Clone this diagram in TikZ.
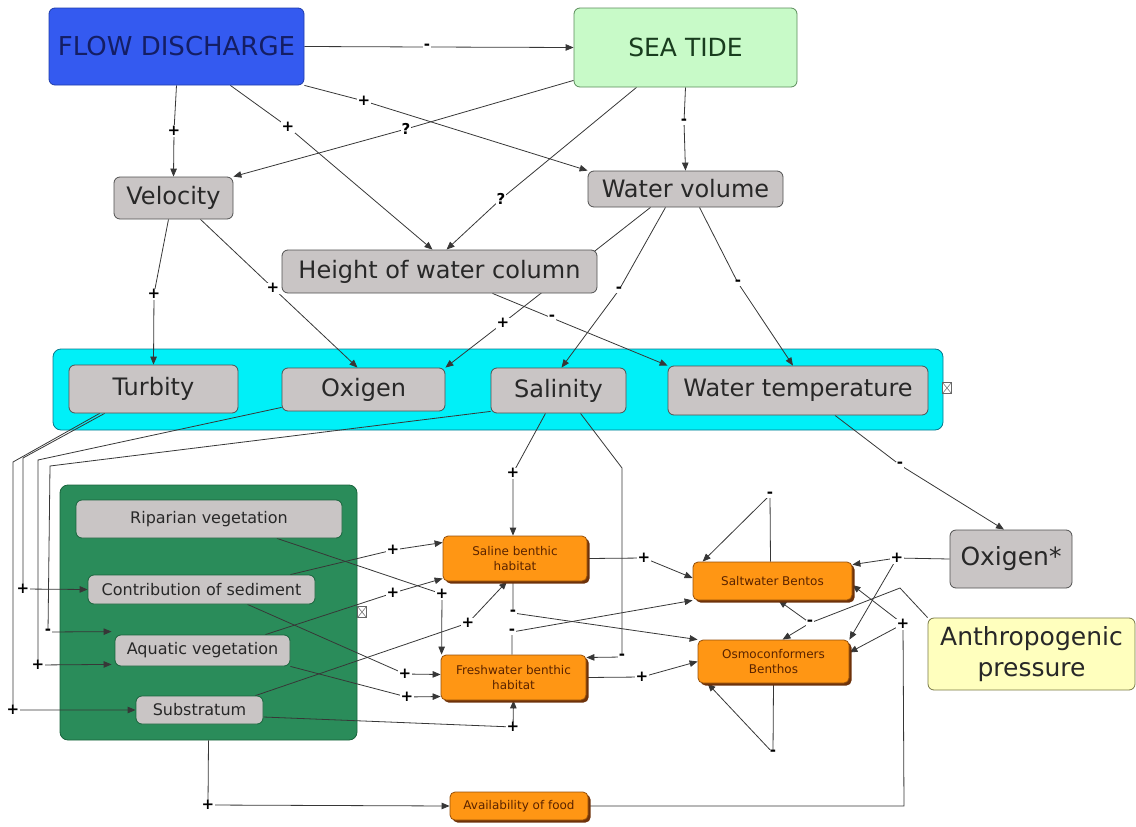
\documentclass[tikz,border=0pt]{standalone}
\usepackage{fontspec}
\setmainfont{DejaVu Sans}
\usetikzlibrary{arrows.meta,calc,shadows}

\definecolor{flowblue}{RGB}{52,90,240}
\definecolor{flowedge}{RGB}{30,60,170}
\definecolor{flowtext}{RGB}{20,30,100}
\definecolor{tidegreen}{RGB}{200,250,200}
\definecolor{tideedge}{RGB}{90,140,90}
\definecolor{tidetext}{RGB}{25,60,30}
\definecolor{boxgray}{RGB}{201,197,197}
\definecolor{boxedge}{RGB}{80,80,80}
\definecolor{inktext}{RGB}{40,40,40}
\definecolor{watercyan}{RGB}{0,240,248}
\definecolor{wateredge}{RGB}{10,120,140}
\definecolor{biogreen}{RGB}{42,140,90}
\definecolor{bioedge}{RGB}{25,100,60}
\definecolor{habitat}{RGB}{255,150,20}
\definecolor{habitatedge}{RGB}{150,80,10}
\definecolor{habitatshadow}{RGB}{110,50,10}
\definecolor{habitattext}{RGB}{90,35,0}
\definecolor{pressure}{RGB}{255,255,190}
\definecolor{pressureedge}{RGB}{120,120,70}
\definecolor{linkgray}{RGB}{55,55,55}

\pgfdeclarelayer{back}
\pgfdeclarelayer{links}
\pgfsetlayers{back,links,main}

\tikzset{
  cbox/.style={rounded corners=6pt, align=center, inner sep=2pt, line width=0.8pt},
  driver/.style={cbox, fill=flowblue, draw=flowedge, text=flowtext, font=\fontsize{26}{30}\selectfont},
  tide/.style={cbox, fill=tidegreen, draw=tideedge, text=tidetext, font=\fontsize{25}{30}\selectfont},
  var/.style={cbox, fill=boxgray, draw=boxedge, text=inktext, font=\fontsize{24}{28}\selectfont},
  bigvar/.style={cbox, fill=boxgray, draw=boxedge, text=inktext, font=\fontsize{25}{30}\selectfont},
  biovar/.style={cbox, fill=boxgray, draw=bioedge, text=inktext, font=\fontsize{16}{19}\selectfont},
  hab/.style={cbox, rounded corners=5pt, fill=habitat, draw=habitatedge, text=habitattext,
    font=\fontsize{12}{15}\selectfont,
    drop shadow={shadow xshift=2.5pt, shadow yshift=-2.5pt, fill=habitatshadow, opacity=1}},
  press/.style={cbox, fill=pressure, draw=pressureedge, text=inktext, font=\fontsize{25}{31}\selectfont},
  group/.style={rounded corners=8pt, line width=0.8pt},
  lbl/.style={fill=white, inner sep=0.8pt, text=black, font=\bfseries\fontsize{15}{15}\selectfont},
  conn/.style={draw=linkgray, line width=0.8pt},
  arr/.style={conn, -{Triangle[length=8pt,width=6.5pt]}},
  icon/.style={draw=black!60, fill=white, minimum width=9pt, minimum height=11pt, inner sep=0pt,
    path picture={\draw[black!60, line width=0.5pt]
      (path picture bounding box.north west) -- (path picture bounding box.south east)
      (path picture bounding box.north east) -- (path picture bounding box.south west);}}
}

\begin{document}
\begin{tikzpicture}[x=1pt, y=-1pt]
\useasboundingbox (0,0) rectangle (1136,827);

% grouping panels
\begin{pgfonlayer}{back}
  \node[group, fill=watercyan, draw=wateredge, minimum width=890pt, minimum height=81pt] (water) at (498,389.5) {};
  \node[group, fill=biogreen, draw=bioedge, minimum width=297pt, minimum height=255pt] (biota) at (208.5,612.5) {};
\end{pgfonlayer}

% drivers
\node[driver, minimum width=255pt, minimum height=77pt] (fd) at (176.5,46.5) {FLOW DISCHARGE};
\node[tide, minimum width=223pt, minimum height=79pt] (st) at (685.5,47.5) {SEA TIDE};

% hydraulic variables
\node[var, minimum width=119pt, minimum height=42pt] (vel) at (173.5,198) {Velocity};
\node[var, minimum width=195pt, minimum height=36pt] (wv) at (685.5,189) {Water volume};
\node[var, minimum width=315pt, minimum height=43pt] (hwc) at (439.5,271.5) {Height of water column};

% water quality
\node[var, minimum width=169pt, minimum height=48pt] (tur) at (153.5,389) {Turbity};
\node[var, minimum width=163pt, minimum height=43pt] (oxi) at (363.5,389.5) {Oxigen};
\node[var, minimum width=135pt, minimum height=45pt] (sal) at (558.5,390.5) {Salinity};
\node[var, minimum width=260pt, minimum height=49pt] (wt) at (798,390.5) {Water temperature};
\node[icon] (ic1) at (947,388) {};

% riverbed components
\node[biovar, minimum width=266pt, minimum height=38pt] (rip) at (209,519) {Riparian vegetation};
\node[biovar, minimum width=227pt, minimum height=29pt] (cos) at (201.5,589.5) {Contribution of sediment};
\node[biovar, minimum width=175pt, minimum height=31pt] (aqv) at (202.5,650.5) {Aquatic vegetation};
\node[biovar, minimum width=127pt, minimum height=28pt] (sub) at (199.5,710) {Substratum};
\node[icon] (ic2) at (362,612) {};

% habitats and benthos
\node[hab, minimum width=144pt, minimum height=45pt] (sbh) at (515,558.5) {Saline benthic\\habitat};
\node[hab, minimum width=145pt, minimum height=45pt] (fbh) at (513.5,677.5) {Freshwater benthic\\habitat};
\node[hab, minimum width=159pt, minimum height=38pt] (swb) at (772.5,581) {Saltwater Bentos};
\node[hab, minimum width=151pt, minimum height=43pt] (osb) at (773.5,661.5) {Osmoconformers\\Benthos};
\node[hab, minimum width=138pt, minimum height=28pt] (food) at (519,806) {Availability of food};

% external factors
\node[bigvar, minimum width=122pt, minimum height=58pt] (ox2) at (1011,559) {Oxigen*};
\node[press, minimum width=207pt, minimum height=72pt] (anth) at (1031.5,654) {Anthropogenic\\pressure};

% link signs
\node[lbl] (l1) at (427,47) {-};
\node[lbl] (l2) at (174,131) {+};
\node[lbl] (l3) at (288,127) {+};
\node[lbl] (l4) at (364,101) {+};
\node[lbl] (l5) at (406,129) {?};
\node[lbl] (l6) at (501,199) {?};
\node[lbl] (l7) at (684,122) {-};
\node[lbl] (l8) at (154,294) {+};
\node[lbl] (l9) at (273,288) {+};
\node[lbl] (l10) at (503,323) {+};
\node[lbl] (l11) at (552,318) {-};
\node[lbl] (l12) at (619,290) {-};
\node[lbl] (l13) at (738,283) {-};
\node[lbl] (l14) at (900,465) {-};
\node[lbl] (l15) at (13,710) {+};
\node[lbl] (l16) at (23,589) {+};
\node[lbl] (l17) at (38,665) {+};
\node[lbl] (l18) at (48,632) {-};
\node[lbl] (l19) at (513,473) {+};
\node[lbl] (l20) at (622,657) {-};
\node[lbl] (l21) at (442,594) {+};
\node[lbl] (l22) at (393,550) {+};
\node[lbl] (l23) at (393,593) {+};
\node[lbl] (l24) at (468,623) {+};
\node[lbl] (l25) at (405,674) {+};
\node[lbl] (l26) at (407,697) {+};
\node[lbl] (l27) at (513,727) {+};
\node[lbl] (l28) at (208,805) {+};
\node[lbl] (l29) at (903,624) {+};
\node[lbl] (l30) at (810,623) {-};
\node[lbl] (l31) at (897,558) {+};
\node[lbl] (l32) at (644,558) {+};
\node[lbl] (l33) at (642,677) {+};
\node[lbl] (l34) at (513,613) {-};
\node[lbl] (l35) at (512,632) {-};
\node[lbl] (l36) at (770,495) {-};
\node[lbl] (l37) at (773,753) {-};

% bends of routed links
\coordinate (b15) at (13,462);
\coordinate (b16) at (23,458);
\coordinate (b17) at (38,460);
\coordinate (b18) at (50,466);
\coordinate (b20) at (622,468);
\coordinate (b29) at (904,806);
\coordinate (b30) at (900,588);

\begin{pgfonlayer}{links}
  % drivers
  \draw[arr] (fd.east) -- (l1.center) -- (st.west);
  \draw[arr] (fd.south) -- (l2.center) -- (vel.north);
  \draw[arr] (fd) -- (l3.center) -- ($(hwc.north)+(-7,0)$);
  \draw[arr] (fd.south east) -- (l4.center) -- (wv.north west);
  \draw[arr] ($(st.south west)+(0,-7)$) -- (l5.center) -- (vel.north east);
  \draw[arr] ($(st.south)+(-49,0)$) -- (l6.center) -- ($(hwc.north)+(7,0)$);
  \draw[arr] (st.south) -- (l7.center) -- (wv.north);
  % hydraulics to water quality
  \draw[arr] ($(vel.south)+(-5,0)$) -- (l8.center) -- (tur.north);
  \draw[arr] ($(vel.south)+(27,0)$) -- (l9.center) -- ($(oxi.north)+(-6,0)$);
  \draw[arr] ($(wv.south)+(-35,0)$) -- (l10.center) -- (oxi.north east);
  \draw[arr] ($(hwc.south)+(53,0)$) -- (l11.center) -- (wt.north west);
  \draw[arr] ($(wv.south)+(-20,0)$) -- (l12.center) -- ($(sal.north)+(3,0)$);
  \draw[arr] ($(wv.south)+(14,0)$) -- (l13.center) -- ($(wt.north)+(-5,0)$);
  \draw[arr] ($(wt.south)+(37,0)$) -- (l14.center) -- ($(ox2.north)+(-7,0)$);
  % water quality to riverbed
  \draw[arr] ($(tur.south west)+(31,0)$) -- (b15) -- (l15.center) -- (sub.west);
  \draw[arr] ($(tur.south west)+(36,0)$) -- (b16) -- (l16.center) -- (cos.west);
  \draw[arr] ($(oxi.south west)+(0,-4)$) -- (b17) -- (l17.center) -- ($(aqv.south west)+(-3,-2)$);
  \draw[arr] ($(sal.south west)+(0,-2)$) -- (b18) -- (l18.center) -- ($(aqv.north west)+(-3,-3)$);
  % salinity to habitats
  \draw[arr] ($(sal.south)+(-13,0)$) -- (l19.center) -- ($(sbh.north)+(-2,0)$);
  \draw[arr] ($(sal.south)+(22,0)$) -- (b20) -- (l20.center) -- ($(fbh.east)+(0,-20)$);
  % riverbed to habitats
  \draw[arr] ($(rip.south)+(68,0)$) -- (l21.center) -- ($(fbh.north west)+(1,0)$);
  \draw[arr] ($(cos.north east)+(-25,0)$) -- (l22.center) -- ($(sbh.west)+(0,-16)$);
  \draw[arr] ($(aqv.north east)+(-25,0)$) -- (l23.center) -- ($(sbh.west)+(0,20)$);
  \draw[arr] ($(sub.north east)+(-8,0)$) -- (l24.center) -- ($(sbh.south)+(-8,0)$);
  \draw[arr] ($(cos.south)+(46,0)$) -- (l25.center) -- ($(fbh.west)+(0,-3)$);
  \draw[arr] (aqv.south east) -- (l26.center) -- ($(fbh.west)+(0,19)$);
  \draw[arr] ($(sub.east)+(0,7)$) -- (l27.center) -- (fbh.south);
  \draw[arr] (biota.south) -- (l28.center) -- (food.west);
  % food supply to benthos
  \draw[conn] (food.east) -- (b29) -- (l29.center);
  \draw[arr] (l29.center) -- ($(osb.east)+(0,-9)$);
  \draw[arr] (l29.center) -- ($(swb.east)+(0,4)$);
  % anthropogenic pressure
  \draw[conn] (anth.north west) -- (b30) -- (l30.center);
  \draw[arr] (l30.center) -- ($(osb.north)+(9,0)$);
  \draw[arr] (l30.center) -- ($(swb.south)+(6,0)$);
  % oxygen supply
  \draw[conn] (ox2.west) -- (l31.center);
  \draw[arr] (l31.center) -- ($(swb.north east)+(0,3)$);
  \draw[arr] (l31.center) -- (osb.north east);
  % habitats to benthos
  \draw[arr] (sbh.east) -- (l32.center) -- ($(swb.west)+(0,-3)$);
  \draw[arr] (fbh.east) -- (l33.center) -- (osb.west);
  \draw[arr] ($(sbh.south)+(-2,0)$) -- (l34.center) -- (osb.north west);
  \draw[arr] ($(fbh.north)+(-1.5,0)$) -- (l35.center) -- (swb.south west);
  % density dependence
  \draw[arr] ($(swb.north)+(-2,0)$) -- (l36.center) -- ($(swb.north west)+(10,0)$);
  \draw[arr] (osb.south) -- (l37.center) -- ($(osb.south west)+(10,0)$);
\end{pgfonlayer}
\end{tikzpicture}
\end{document}
